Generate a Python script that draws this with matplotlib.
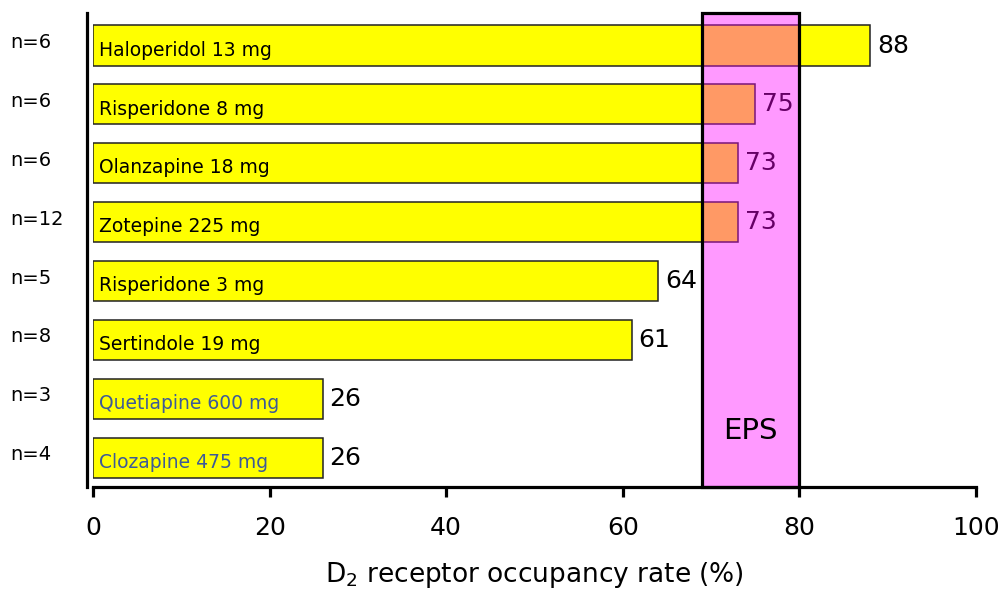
import numpy as np
import matplotlib.pyplot as plt
from matplotlib import transforms

# D2 receptor occupancy per antipsychotic, listed top to bottom
drugs = ["Haloperidol 13 mg", "Risperidone 8 mg", "Olanzapine 18 mg", "Zotepine 225 mg",
         "Risperidone 3 mg", "Sertindole 19 mg", "Quetiapine 600 mg", "Clozapine 475 mg"]
occupancy = [88, 75, 73, 73, 64, 61, 26, 26]
n_patients = ["n=6", "n=6", "n=6", "n=12", "n=5", "n=8", "n=3", "n=4"]
eps_range = (69, 80)

plt.rcParams['font.family'] = ['DejaVu Sans']

fig = plt.figure(figsize=(10.02, 5.97), dpi=100)
ax = fig.add_axes([0.0928, 0.1843, 0.8812, 0.7937])

ypos = np.arange(len(drugs))[::-1]
ax.barh(ypos, occupancy, height=0.68, color="#ffff00", edgecolor="#222222",
        linewidth=1.1, zorder=2)

label_colors = ["black"] * 6 + ["#3d5a98"] * 2
for y, name, c in zip(ypos, drugs, label_colors):
    ax.text(0.7, y - 0.08, name, fontsize=13.5, color=c, va="center", ha="left", zorder=3)

for y, v in zip(ypos, occupancy):
    ax.text(v + 0.8, y, str(v), fontsize=18, va="center", ha="left", zorder=3)

# EPS threshold band, translucent over the bars
ax.axvspan(*eps_range, facecolor="#ff00ff", alpha=0.4, linewidth=0, zorder=5)
ax.axvspan(*eps_range, fill=False, edgecolor="black", linewidth=2.3, zorder=6, clip_on=False)
ax.text(sum(eps_range) / 2, 0.45, "EPS", fontsize=21, ha="center", va="center", zorder=7)

# sample sizes left of the axis
trans = transforms.blended_transform_factory(fig.transFigure, ax.transData)
for y, n in zip(ypos, n_patients):
    ax.text(0.01, y + 0.05, n, fontsize=14, transform=trans, ha="left", va="center")

ax.set_xlim(0, 100)
ax.set_ylim(-0.5, 7.55)
ax.set_yticks([])
ax.set_xticks(range(0, 101, 20))
ax.tick_params(axis="x", direction="out", length=7, width=2.3, pad=14, labelsize=18)
for s in ["top", "right"]:
    ax.spines[s].set_visible(False)
ax.spines["left"].set_linewidth(2.3)
ax.spines["left"].set_position(("outward", 4))
ax.spines["bottom"].set_linewidth(2.3)
ax.set_xlabel("D$_2$ receptor occupancy rate (%)", fontsize=19, labelpad=14)

fig.savefig("out.png", dpi=100)
